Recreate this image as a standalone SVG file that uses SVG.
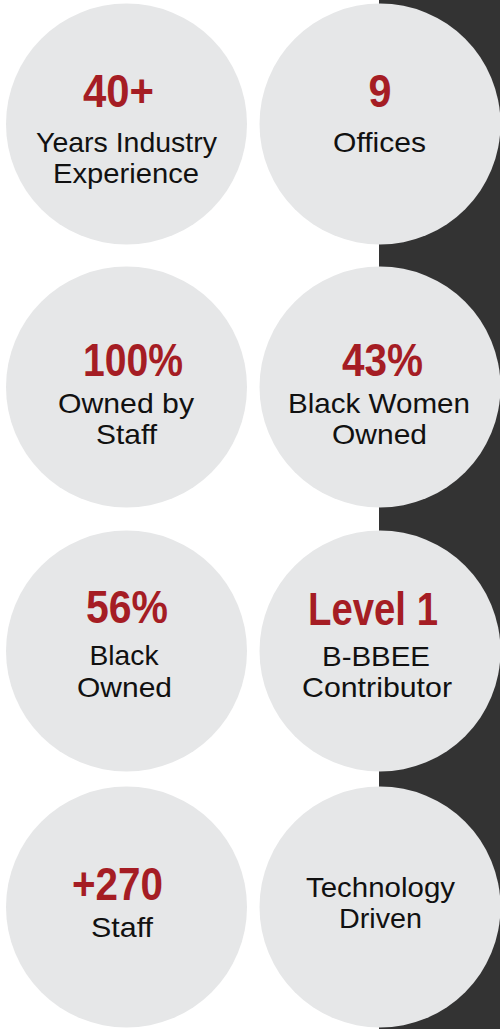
<svg xmlns="http://www.w3.org/2000/svg" width="500" height="1029" viewBox="0 0 500 1029">
<style>
.bg{fill:#ffffff}
.band{fill:#333333}
.c{fill:#e6e7e8}
.t{font-family:"Liberation Sans",Arial,sans-serif;font-weight:bold;font-size:47px;fill:#a51d24;text-anchor:middle}
.s{font-family:"Liberation Sans",Arial,sans-serif;font-size:28px;fill:#111111;text-anchor:middle}
</style>
<rect class="bg" x="0" y="0" width="500" height="1029"/>
<rect class="band" x="379" y="0" width="121" height="1029"/>
<g id="connectors"></g>
<g id="n1">
<circle class="c" cx="126.5" cy="124" r="120.5"/>
<text class="t" x="118.5" y="107" textLength="71" lengthAdjust="spacingAndGlyphs">40+</text>
<text class="s" x="126.5" y="152" textLength="181" lengthAdjust="spacingAndGlyphs">Years Industry</text>
<text class="s" x="126" y="183" textLength="146" lengthAdjust="spacingAndGlyphs">Experience</text>
</g>
<g id="n2">
<circle class="c" cx="380" cy="124" r="120.5"/>
<text class="t" x="380" y="107" textLength="23" lengthAdjust="spacingAndGlyphs">9</text>
<text class="s" x="379.5" y="152" textLength="93" lengthAdjust="spacingAndGlyphs">Offices</text>
</g>
<g id="n3">
<circle class="c" cx="126.5" cy="387" r="120.5"/>
<text class="t" x="133" y="376" textLength="100" lengthAdjust="spacingAndGlyphs">100%</text>
<text class="s" x="126" y="413" textLength="136" lengthAdjust="spacingAndGlyphs">Owned by</text>
<text class="s" x="126.5" y="444" textLength="61" lengthAdjust="spacingAndGlyphs">Staff</text>
</g>
<g id="n4">
<circle class="c" cx="380" cy="387" r="120.5"/>
<text class="t" x="382.5" y="376" textLength="81" lengthAdjust="spacingAndGlyphs">43%</text>
<text class="s" x="379" y="413" textLength="182" lengthAdjust="spacingAndGlyphs">Black Women</text>
<text class="s" x="379.5" y="444" textLength="95" lengthAdjust="spacingAndGlyphs">Owned</text>
</g>
<g id="n5">
<circle class="c" cx="126.5" cy="651" r="120.5"/>
<text class="t" x="127" y="623" textLength="82" lengthAdjust="spacingAndGlyphs">56%</text>
<text class="s" x="124" y="665" textLength="69" lengthAdjust="spacingAndGlyphs">Black</text>
<text class="s" x="124.5" y="697" textLength="95" lengthAdjust="spacingAndGlyphs">Owned</text>
</g>
<g id="n6">
<circle class="c" cx="380" cy="651" r="120.5"/>
<text class="t" x="373" y="625" textLength="130" lengthAdjust="spacingAndGlyphs">Level 1</text>
<text class="s" x="376" y="666" textLength="108" lengthAdjust="spacingAndGlyphs">B-BBEE</text>
<text class="s" x="377" y="697" textLength="150" lengthAdjust="spacingAndGlyphs">Contributor</text>
</g>
<g id="n7">
<circle class="c" cx="126.5" cy="907" r="120.5"/>
<text class="t" x="117.5" y="900" textLength="91" lengthAdjust="spacingAndGlyphs">+270</text>
<text class="s" x="122" y="937" textLength="62" lengthAdjust="spacingAndGlyphs">Staff</text>
</g>
<g id="n8">
<circle class="c" cx="380" cy="907" r="120.5"/>
<text class="s" x="380.5" y="897" textLength="149" lengthAdjust="spacingAndGlyphs">Technology</text>
<text class="s" x="380.5" y="928" textLength="83" lengthAdjust="spacingAndGlyphs">Driven</text>
</g>
</svg>
